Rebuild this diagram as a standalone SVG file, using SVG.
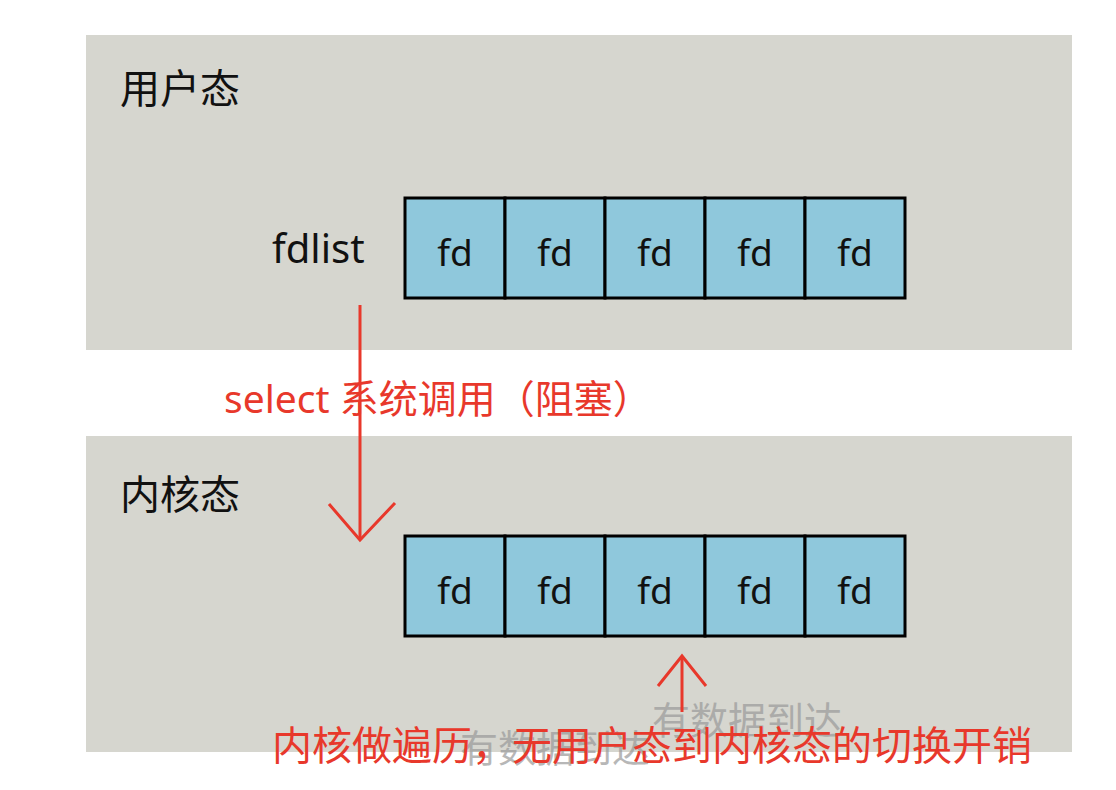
<svg xmlns="http://www.w3.org/2000/svg" width="1116" height="790" viewBox="0 0 1116 790">
<defs>
<style>
.panel{fill:#d6d6cf}
.cell{fill:#8fc8dc;stroke:#000;stroke-width:3}
.lbl{font-family:"Noto Sans","Noto Sans CJK SC",sans-serif;fill:#111}
.fd{font-family:"Noto Sans","Noto Sans CJK SC",sans-serif;font-size:37px;fill:#111;text-anchor:middle}
.red{font-family:"Noto Sans","Noto Sans CJK SC",sans-serif;fill:#e8382b}
.wm{font-family:"Noto Sans CJK SC",sans-serif;font-size:38px;fill:#9a9a9a;opacity:0.7}
.arr{stroke:#e8382b;stroke-width:3;fill:none}
</style>
</defs>
<rect width="1116" height="790" fill="#fff"/>
<g id="user-space">
<rect class="panel" x="86" y="35" width="986" height="315"/>
<text class="lbl" x="120" y="103" font-size="40">用户态</text>
</g>
<g id="kernel-space">
<rect class="panel" x="86" y="436" width="986" height="316"/>
<text class="lbl" x="120" y="509" font-size="40">内核态</text>
</g>
<g id="user-fdlist">
<text class="lbl" x="272" y="263" font-size="40">fdlist</text>
<rect class="cell" x="405" y="198" width="100" height="100"/>
<rect class="cell" x="505" y="198" width="100" height="100"/>
<rect class="cell" x="605" y="198" width="100" height="100"/>
<rect class="cell" x="705" y="198" width="100" height="100"/>
<rect class="cell" x="805" y="198" width="100" height="100"/>
<text class="fd" x="455" y="266">fd</text>
<text class="fd" x="555" y="266">fd</text>
<text class="fd" x="655" y="266">fd</text>
<text class="fd" x="755" y="266">fd</text>
<text class="fd" x="855" y="266">fd</text>
</g>
<g id="kernel-fdlist">
<rect class="cell" x="405" y="536" width="100" height="100"/>
<rect class="cell" x="505" y="536" width="100" height="100"/>
<rect class="cell" x="605" y="536" width="100" height="100"/>
<rect class="cell" x="705" y="536" width="100" height="100"/>
<rect class="cell" x="805" y="536" width="100" height="100"/>
<text class="fd" x="455" y="604">fd</text>
<text class="fd" x="555" y="604">fd</text>
<text class="fd" x="655" y="604">fd</text>
<text class="fd" x="755" y="604">fd</text>
<text class="fd" x="855" y="604">fd</text>
</g>
<g id="watermark">
<text class="wm" x="460" y="762">有数据到达</text>
<text class="wm" x="652" y="734">有数据到达</text>
</g>
<g id="connectors">
<path class="arr" d="M360 305 V540"/>
<path class="arr" d="M329 504 L360 540 L395 503"/>
<path class="arr" d="M682 712 V656"/>
<path class="arr" d="M658 686 L682 656 L706 686"/>
</g>
<g id="labels">
<text class="red" x="224" y="413" font-size="39">select 系统调用（阻塞）</text>
<text class="red" x="272" y="760" font-size="40">内核做遍历，无用户态到内核态的切换开销</text>
</g>
</svg>
